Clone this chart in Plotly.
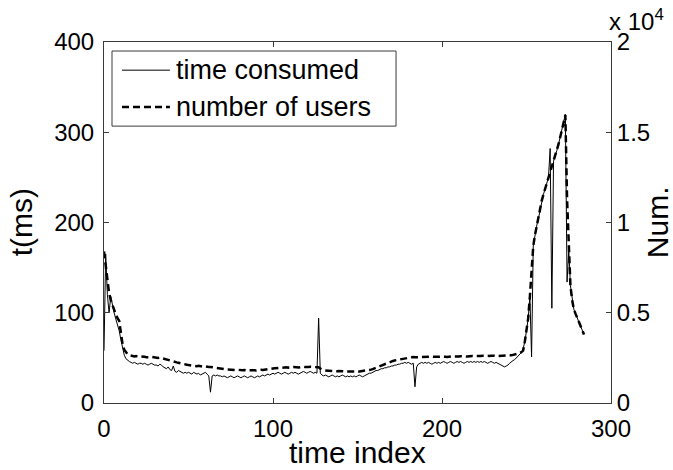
import plotly.graph_objects as go

# ---- data ----
users_start = [8400, 7600, 6800, 6100, 5700, 5400, 5150, 4900, 4700, 4550, 3900, 3250, 2950, 2800, 2700, 2650]
users_a = [2620, 2600, 2580, 2600, 2570, 2560, 2580, 2550, 2560, 2540, 2520, 2540, 2550, 2530, 2520, 2510, 2500, 2520, 2490, 2470]
users_b = [2450, 2420, 2400, 2350, 2300, 2280, 2260, 2250, 2230, 2200, 2180, 2160, 2150]
users_c = [2120, 2100, 2080, 2090, 2060, 2050, 2040, 2060, 2030, 2020, 2010, 2030, 2000, 1990, 2000, 1980, 1960, 1950, 1940, 1920]
users_d = [1900, 1880, 1870, 1860, 1850, 1840, 1850, 1830, 1820, 1830, 1840, 1820, 1810, 1820, 1830, 1810,
           1800, 1820, 1830, 1820, 1810, 1800, 1820, 1830, 1840, 1830, 1850, 1860, 1870, 1880, 1900, 1910]
users_e = [1920, 1930, 1950, 1960, 1940, 1950, 1970, 1980, 1960, 1950, 1970, 1990, 2000, 1980, 1970, 1990,
           2000, 2010, 1990, 1980, 2000, 2010, 2020, 2000, 1990, 2000, 1980]
users_f = [1900, 1850, 1820, 1800, 1790, 1780, 1790, 1800, 1780, 1770, 1760, 1770, 1780, 1760, 1750, 1760,
           1770, 1750, 1740, 1750, 1760, 1740, 1730, 1740, 1750, 1760, 1770, 1780, 1800, 1820]
users_g = [1850, 1880, 1920, 1960, 2000, 2050, 2080, 2120, 2150, 2200, 2230, 2260, 2300, 2330, 2360, 2380, 2400, 2420, 2450]
users_h = [2470, 2490, 2500, 2520, 2530, 2540, 2550, 2540, 2530, 2520, 2540, 2550, 2560, 2550, 2540, 2550,
           2560, 2570, 2560, 2550, 2540, 2560, 2570, 2580, 2570, 2560, 2550, 2570, 2580, 2590, 2580, 2570,
           2560, 2580, 2590, 2600, 2590, 2580, 2570, 2590, 2600, 2610, 2600, 2590, 2600, 2610]
users_i = [2600, 2620, 2610, 2600, 2590, 2610, 2620, 2630, 2620, 2600, 2610, 2620, 2630, 2620, 2610, 2620,
           2640, 2650, 2640, 2660, 2680, 2700, 2720, 2760, 2820]
users_peak = [2900, 3400, 4000, 4700, 5900, 7400, 8700, 9300, 9800, 10200, 10700, 11200, 11550, 11850, 12200,
              12500, 12850, 13150, 13400, 13650, 14000, 14350, 14750, 15100, 15500, 15950, 11300, 8500, 6500,
              5700, 5200, 4950, 4700, 4450, 4250, 4050, 3800]

time_start = [58, 165, 120, 100, 118, 108, 100, 93, 87, 80, 70, 60, 53, 49, 47, 46]
time_a = [45, 44, 45, 44, 43, 44, 44, 43, 44, 43, 42, 43, 44, 43, 42, 42, 41, 43, 42, 40]
time_b = [39, 38, 40, 37, 36, 41, 35, 34, 36, 35, 34, 33, 34]
time_c = [33, 34, 33, 32, 34, 33, 32, 33, 31, 32, 33, 34, 32, 30, 12, 30, 31, 30, 31, 30]
time_d = [30, 29, 30, 29, 28, 29, 30, 29, 28, 29, 30, 29, 28, 29, 30, 29, 28, 29, 30, 29, 28, 29, 30, 29,
          30, 31, 30, 31, 32, 31, 32, 33]
time_e = [32, 33, 34, 33, 32, 33, 34, 33, 32, 33, 34, 33, 34, 33, 32, 33, 34, 35, 34, 33, 34, 35, 34, 33,
          34, 33, 94]
time_f = [33, 31, 30, 31, 30, 29, 30, 31, 30, 29, 30, 29, 30, 31, 30, 29, 30, 29, 30, 29, 30, 29, 30, 31,
          30, 29, 30, 31, 32, 33]
time_g = [33, 34, 35, 36, 36, 37, 38, 38, 39, 39, 40, 40, 41, 41, 42, 42, 43, 43, 44]
time_h = [44, 45, 44, 45, 44, 43, 44, 18, 40, 43, 44, 45, 44, 45, 44, 45, 44, 43, 44, 45, 44, 45, 44, 45,
          46, 45, 44, 45, 46, 45, 44, 45, 46, 45, 46, 45, 44, 45, 46, 45, 46, 45, 46, 45, 46, 45]
time_i = [46, 45, 46, 45, 44, 45, 46, 45, 44, 45, 44, 43, 42, 41, 40, 41, 42, 44, 46, 47, 48, 50, 52, 54, 56]
time_peak = [60, 68, 80, 94, 118, 51, 174, 186, 196, 204, 214, 224, 231, 237, 244, 250, 282, 105, 268, 273,
             280, 287, 295, 302, 310, 320, 134, 170, 130, 114, 104, 99, 94, 89, 85, 81, 76]

users = (users_start + users_a + users_b + users_c + users_d + users_e + users_f + users_g + users_h
         + users_i + users_peak)
time_ms = (time_start + time_a + time_b + time_c + time_d + time_e + time_f + time_g + time_h
           + time_i + time_peak)
time_index = list(range(len(users)))

x_ticks = [0, 100, 200, 300]
y_ticks = [0, 100, 200, 300, 400]
y2_ticks = [0, 5000, 10000, 15000, 20000]
y2_labels = ["0", "0.5", "1", "1.5", "2"]
legend_labels = ["time consumed", "number of users"]

FONT = "Liberation Sans, Arial, Helvetica, sans-serif"
AX = "#3a3a3a"

fig = go.Figure()
fig.add_trace(go.Scatter(x=time_index, y=time_ms, mode="lines", name=legend_labels[0],
                         line=dict(color="black", width=1), showlegend=False))
fig.add_trace(go.Scatter(x=time_index, y=users, mode="lines", name=legend_labels[1], yaxis="y2",
                         line=dict(color="black", width=2.5, dash="7px,4px"), showlegend=False))

fig.update_layout(
    width=673, height=470, autosize=False,
    margin=dict(l=104, r=62, t=42, b=67),
    paper_bgcolor="white", plot_bgcolor="white",
    font=dict(family=FONT, size=24, color="black"),
    xaxis=dict(range=[0, 300], tickvals=x_ticks, ticks="inside", ticklen=5, tickcolor=AX,
               showline=True, linecolor=AX, linewidth=1, mirror="ticks", showgrid=False,
               zeroline=False, ticklabelstandoff=4, automargin=False),
    yaxis=dict(range=[0, 400], tickvals=y_ticks, ticks="inside", ticklen=5, tickcolor=AX,
               showline=True, linecolor=AX, linewidth=1, showgrid=False, zeroline=False,
               ticklabelstandoff=4, automargin=False),
    yaxis2=dict(range=[0, 20000], tickvals=y2_ticks, ticktext=y2_labels, overlaying="y", side="right",
                ticks="inside", ticklen=5, tickcolor=AX, showline=True, linecolor=AX, linewidth=1,
                showgrid=False, zeroline=False, ticklabelstandoff=0, automargin=False),
)

# axis titles
fig.add_annotation(text="time index", xref="paper", yref="paper", x=0.5, y=-0.137,
                   showarrow=False, font=dict(size=30), xanchor="center", yanchor="middle")
fig.add_annotation(text="t(ms)", xref="paper", yref="paper", x=-0.162, y=0.5, textangle=-90,
                   showarrow=False, font=dict(size=30), xanchor="center", yanchor="middle")
fig.add_annotation(text="Num.", xref="paper", yref="paper", x=1.092, y=0.5, textangle=-90,
                   showarrow=False, font=dict(size=30), xanchor="center", yanchor="middle")
fig.add_annotation(text="x 10<sup>4</sup>", xref="paper", yref="paper", x=0.992, y=1.06,
                   showarrow=False, font=dict(size=24), xanchor="left", yanchor="middle")

# legend box
fig.add_shape(type="rect", xref="paper", yref="paper", x0=0.0158, x1=0.576, y0=0.767, y1=0.975,
              line=dict(color=AX, width=1), fillcolor="white", layer="above")
fig.add_shape(type="line", xref="paper", yref="paper", x0=0.0355, x1=0.130, y0=0.922, y1=0.922,
              line=dict(color="black", width=1), layer="above")
fig.add_shape(type="line", xref="paper", yref="paper", x0=0.0355, x1=0.130, y0=0.820, y1=0.820,
              line=dict(color="black", width=2.5, dash="7px,4px"), layer="above")
fig.add_annotation(text=legend_labels[0], xref="paper", yref="paper", x=0.138, y=0.922,
                   showarrow=False, font=dict(size=27), xanchor="left", yanchor="middle")
fig.add_annotation(text=legend_labels[1], xref="paper", yref="paper", x=0.138, y=0.820,
                   showarrow=False, font=dict(size=27), xanchor="left", yanchor="middle")

fig.write_html("out.html")
